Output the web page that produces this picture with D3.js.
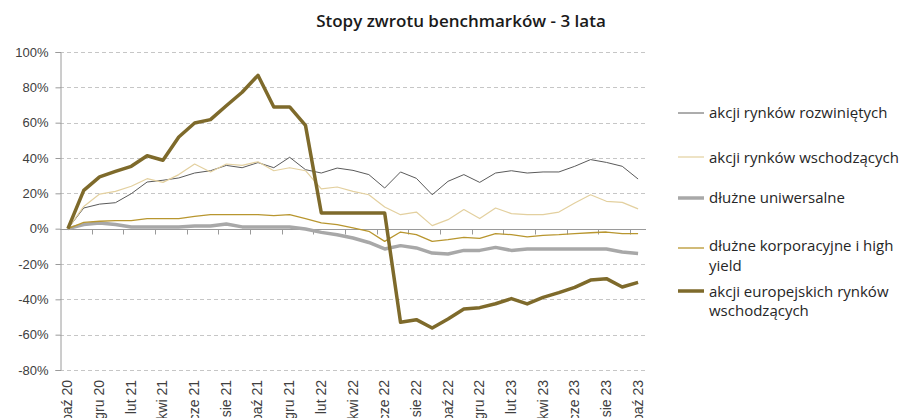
<!DOCTYPE html>
<html>
<head>
<meta charset="utf-8">
<script src="https://cdn.jsdelivr.net/npm/d3@7"></script>
<style>
  html, body { margin: 0; padding: 0; background: #ffffff; }
  svg { display: block; }
</style>
</head>
<body>
<svg id="chart" width="900" height="418"></svg>
<script>
const months = ["paź 20","lis 20","gru 20","sty 21","lut 21","mar 21","kwi 21","maj 21","cze 21","lip 21","sie 21","wrz 21","paź 21","lis 21","gru 21","sty 22","lut 22","mar 22","kwi 22","maj 22","cze 22","lip 22","sie 22","wrz 22","paź 22","lis 22","gru 22","sty 23","lut 23","mar 23","kwi 23","maj 23","cze 23","lip 23","sie 23","wrz 23","paź 23"];

const seriesNames = ["akcji rynków rozwiniętych","akcji rynków wschodzących","dłużne uniwersalne","dłużne korporacyjne i high yield","akcji europejskich rynków wschodzących"];

const developed = [0, 11.7, 13.9, 14.7, 19.8, 26.4, 27.4, 28.7, 31.5, 32.8, 35.8, 34.5, 37.4, 34.5, 40.4, 33.4, 31.5, 34.3, 33, 30.6, 23, 32.1, 28.5, 19.2, 26.8, 30.6, 26.2, 31.5, 32.8, 31.5, 32.1, 32.1, 35.3, 39.1, 37.5, 35.3, 28.1];
const emerging = [0, 12.6, 19.6, 21.1, 24, 28.3, 26.2, 30.6, 36.6, 32.1, 36.6, 35.8, 37.9, 32.8, 34.5, 32.8, 22.5, 23.6, 21.1, 19.2, 12.3, 7.9, 9.4, 1.7, 5.1, 10.8, 5.7, 11.7, 8.5, 7.9, 7.9, 9.4, 14.5, 19.2, 15.5, 14.9, 11.2];
const universal = [0, 2.3, 3.2, 2.3, 1, 1, 1, 1, 1.5, 1.5, 2.6, 1, 1, 1, 1, -0.2, -2.1, -3.4, -5.3, -7.8, -11.5, -9.6, -10.9, -13.8, -14.3, -12.3, -12.3, -10.6, -12.3, -11.5, -11.5, -11.5, -11.5, -11.5, -11.5, -13.2, -14];
const corporateHY = [0, 3.6, 4.2, 4.5, 4.5, 5.7, 5.7, 5.7, 7, 7.9, 7.9, 7.9, 7.9, 7.4, 7.9, 5.7, 3.3, 2.3, 0.4, -1.5, -7.2, -1.9, -3.4, -7.2, -6.2, -4.9, -5.5, -2.8, -3.4, -4.7, -3.8, -3.4, -2.8, -2.3, -1.9, -2.8, -2.8];
const emergingEurope = [0, 21.7, 29.3, 32.4, 35.3, 41.3, 38.7, 51.9, 59.8, 61.7, 69.6, 77.2, 86.8, 68.9, 68.9, 58.5, 8.9, 8.9, 8.9, 8.9, 8.9, -53, -51.5, -56.2, -51.1, -45.5, -44.7, -42.5, -39.6, -42.6, -38.9, -36.2, -33.2, -29.1, -28.3, -33, -30.4];

const yTicks = [-80, -60, -40, -20, 0, 20, 40, 60, 80, 100];
const chartTitle = "Stopy zwrotu benchmarków - 3 lata";

const seriesData = [developed, emerging, universal, corporateHY, emergingEurope];
const seriesColors = ["#5a5a5a", "#e3d09f", "#a8a8a8", "#b8962f", "#7e6a2b"];
const seriesWidths = [1, 1.2, 3.5, 1.3, 3.5];

const svg = d3.select("#chart");
const plotL = 60, plotR = 646, plotT = 52, plotB = 370;

const x = d3.scaleBand().domain(months).range([plotL, plotR]).paddingInner(0).paddingOuter(0);
const xc = m => x(m) + x.bandwidth() / 2;
const y = d3.scaleLinear().domain([-80, 100]).range([plotB, plotT]);

// Title
svg.append("text")
  .attr("x", 461).attr("y", 27)
  .attr("text-anchor", "middle")
  .attr("font-family", "'Open Sans', Lato, sans-serif")
  .attr("font-weight", 600)
  .attr("font-size", 17)
  .attr("fill", "#1a1a1a")
  .text(chartTitle);

// Gridlines
svg.append("g").selectAll("line")
  .data(yTicks.filter(d => d !== 0))
  .join("line")
  .attr("x1", plotL).attr("x2", plotR)
  .attr("y1", d => Math.round(y(d)) + 0.5).attr("y2", d => Math.round(y(d)) + 0.5)
  .attr("stroke", "#c6c6c6")
  .attr("stroke-width", 1)
  .attr("stroke-dasharray", "4,3");

// Y axis
const yAxis = d3.axisLeft(y).tickValues(yTicks).tickSize(5).tickPadding(7).tickFormat(d => d + "%");
const gy = svg.append("g").attr("transform", `translate(${plotL + 0.5},0)`).call(yAxis);
gy.select(".domain").attr("stroke", "#9a9a9a");
gy.selectAll(".tick line").attr("stroke", "#9a9a9a");
gy.selectAll(".tick text")
  .attr("font-family", "'Liberation Sans', Arial, sans-serif")
  .attr("font-size", 13)
  .attr("fill", "#404040");

// X axis line at 0 with ticks every 2 categories at boundaries
const y0 = Math.round(y(0)) + 0.5;
svg.append("line")
  .attr("x1", plotL).attr("x2", plotR)
  .attr("y1", y0).attr("y2", y0)
  .attr("stroke", "#9a9a9a").attr("stroke-width", 1);
const boundaryIdx = d3.range(2, months.length, 2);
svg.append("g").selectAll("line")
  .data(boundaryIdx)
  .join("line")
  .attr("x1", i => Math.round(x(months[i])) + 0.5)
  .attr("x2", i => Math.round(x(months[i])) + 0.5)
  .attr("y1", y0).attr("y2", y0 + 5)
  .attr("stroke", "#9a9a9a");

// X labels (rotated, at bottom)
const labelMonths = months.filter((m, i) => i % 2 === 0);
svg.append("g").selectAll("text")
  .data(labelMonths)
  .join("text")
  .attr("transform", m => `translate(${xc(m) + 4.5},${plotB + 10}) rotate(-90)`)
  .attr("text-anchor", "end")
  .attr("font-family", "'Liberation Sans', Arial, sans-serif")
  .attr("font-size", 14)
  .attr("fill", "#404040")
  .text(m => m);

// Lines
const line = d3.line().x((d, i) => xc(months[i])).y(d => y(d));
svg.append("g").selectAll("path")
  .data(seriesData)
  .join("path")
  .attr("d", d => line(d))
  .attr("fill", "none")
  .attr("stroke", (d, i) => seriesColors[i])
  .attr("stroke-width", (d, i) => seriesWidths[i])
  .attr("stroke-linejoin", "round");

// Legend
const legendItems = [
  { lines: ["akcji rynków rozwiniętych"], ly: 113, ty: [118] },
  { lines: ["akcji rynków wschodzących"], ly: 157, ty: [163] },
  { lines: ["dłużne uniwersalne"], ly: 198, ty: [203] },
  { lines: ["dłużne korporacyjne i high", "yield"], ly: 248, ty: [251, 271] },
  { lines: ["akcji europejskich rynków", "wschodzących"], ly: 291, ty: [297, 316] }
];
const lg = svg.append("g");
legendItems.forEach((it, i) => {
  lg.append("line")
    .attr("x1", 678).attr("x2", 704)
    .attr("y1", it.ly).attr("y2", it.ly)
    .attr("stroke", seriesColors[i])
    .attr("stroke-width", seriesWidths[i]);
  it.lines.forEach((t, j) => {
    lg.append("text")
      .attr("x", 709).attr("y", it.ty[j])
      .attr("font-family", "'Open Sans', Lato, sans-serif")
      .attr("font-size", 15)
      .attr("fill", "#262626")
      .text(t);
  });
});
</script>
</body>
</html>
